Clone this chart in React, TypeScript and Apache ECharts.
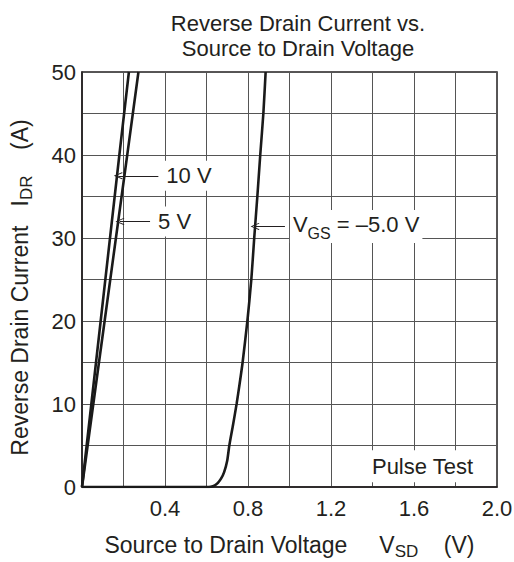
import React, { useEffect, useRef } from "react";
import * as echarts from "echarts";

// ---- data ----
const TITLE_LINES = ["Reverse Drain Current vs.", "Source to Drain Voltage"];

const vsdVgs10 = [0, 0.09, 0.18, 0.226];
const idrVgs10 = [0, 20, 40, 50];

const vsdVgs5 = [0, 0.109, 0.218, 0.272];
const idrVgs5 = [0, 20, 40, 50];

const vsdVgsM5 = [0, 0.6, 0.62, 0.64, 0.655, 0.67, 0.685, 0.7, 0.71, 0.728, 0.745, 0.76, 0.774, 0.797, 0.816, 0.83, 0.845, 0.859, 0.874, 0.885];
const idrVgsM5 = [0, 0, 0.03, 0.2, 0.5, 1.0, 1.8, 3.2, 5, 7.5, 10, 12.5, 15, 20, 25, 30, 35, 40, 45, 50];

// annotation arrows: [tip on curve], label end x
const arrowTips = [[0.175, 37.5], [0.183, 32], [0.834, 31.4]];
const arrowEndX = [0.368, 0.328, 0.978];
const arrowLabels = ["10 V", "5 V", "{a|V}{s|GS}{a| = –5.0 V}"];

const pulseTestPos = [1.641, 2.5];
const pulseTestText = "Pulse Test";

const X_MIN = 0, X_MAX = 2, X_STEP = 0.2;
const Y_MIN = 0, Y_MAX = 50, Y_STEP = 5;

const FONT = "'Liberation Sans', Arial, Helvetica, sans-serif";
const TXT = "#231f20";
const FS = 22;
const FS_NAME = 23;

const ARROW = "path://M5,0 L10,9 L9,10 L5,2.2 L1,10 L0,9 Z";

const richLabel = {
  a: { fontFamily: FONT, fontSize: FS, color: TXT, lineHeight: 25, verticalAlign: "top" as const },
  s: { fontFamily: FONT, fontSize: 16, color: TXT, lineHeight: 16, padding: [12, 0, 0, 0], verticalAlign: "top" as const },
};
const richName = {
  a: { fontFamily: FONT, fontSize: FS_NAME, color: TXT, lineHeight: 26, verticalAlign: "top" as const },
  s: { fontFamily: FONT, fontSize: 17, color: TXT, lineHeight: 17, padding: [10, 0, 0, 0], verticalAlign: "top" as const },
};

function pairs(xs: number[], ys: number[]) {
  return xs.map((x, i) => [x, ys[i]]);
}

function arrowLine(i: number) {
  return {
    silent: true,
    symbol: [ARROW, "none"],
    symbolSize: [7, 9],
    lineStyle: { color: TXT, width: 1, type: "solid" },
    emphasis: { disabled: true },
    label: {
      show: true,
      position: "end",
      distance: 5,
      formatter: arrowLabels[i],
      fontFamily: FONT,
      fontSize: FS,
      color: TXT,
      backgroundColor: "#ffffff",
      padding: [4, 3, 4, 3],
      rich: richLabel,
    },
    data: [[{ coord: arrowTips[i] }, { coord: [arrowEndX[i], arrowTips[i][1]] }]],
  };
}

const curveStyle = { color: "#1a1a1a", width: 2.6 };

export default function App() {
  const ref = useRef<HTMLDivElement>(null);
  useEffect(() => {
    if (!ref.current) return;
    const chart = echarts.init(ref.current, null, { renderer: "svg" });
    chart.setOption({
      animation: false,
      backgroundColor: "#ffffff",
      title: {
        text: TITLE_LINES.join("\n"),
        left: 293,
        top: 6,
        textAlign: "center",
        textStyle: { fontFamily: FONT, fontSize: 22, fontWeight: "normal", color: TXT, lineHeight: 25 },
      },
      grid: {
        left: 82, right: 17, top: 72, bottom: 75,
        containLabel: false,
        outerBoundsMode: "none",
        show: true, borderColor: TXT, borderWidth: 1.5, backgroundColor: "transparent",
      },
      xAxis: {
        type: "value",
        min: X_MIN,
        max: X_MAX,
        interval: X_STEP,
        axisLine: { show: true, lineStyle: { color: TXT, width: 1.5 } },
        axisTick: { show: false },
        splitLine: { show: true, lineStyle: { color: "#555555", width: 1 } },
        axisLabel: {
          fontFamily: FONT,
          fontSize: FS,
          color: TXT,
          margin: 10,
          hideOverlap: false,
          formatter: (v: number) => {
            const k = Math.round(v * 10);
            if (k === 0 || k % 4 !== 0) return "";
            return (k / 10).toFixed(1);
          },
        },
        name: "{a|Source to Drain Voltage     V}{s|SD}{a|    (V)}",
        nameLocation: "middle",
        nameGap: 46,
        nameTextStyle: { rich: richName },
      },
      yAxis: {
        type: "value",
        min: Y_MIN,
        max: Y_MAX,
        interval: Y_STEP,
        axisLine: { show: true, lineStyle: { color: TXT, width: 1.5 } },
        axisTick: { show: false },
        splitLine: { show: true, lineStyle: { color: "#555555", width: 1 } },
        axisLabel: {
          fontFamily: FONT,
          fontSize: FS,
          color: TXT,
          margin: 6,
          formatter: (v: number) => (Math.round(v) % 10 === 0 ? String(Math.round(v)) : ""),
        },
        name: "{a|Reverse Drain Current   I}{s|DR}{a|    (A)}",
        nameLocation: "middle",
        nameGap: 48,
        nameTextStyle: { rich: richName, padding: [0, 16, 0, 0] },
      },
      series: [
        {
          type: "line",
          data: pairs(vsdVgs10, idrVgs10),
          symbol: "none",
          lineStyle: curveStyle,
          silent: true,
          markLine: arrowLine(0),
        },
        {
          type: "line",
          data: pairs(vsdVgs5, idrVgs5),
          symbol: "none",
          lineStyle: curveStyle,
          silent: true,
          markLine: arrowLine(1),
        },
        {
          type: "line",
          data: pairs(vsdVgsM5, idrVgsM5),
          symbol: "none",
          smooth: 0.2,
          lineStyle: curveStyle,
          silent: true,
          markLine: arrowLine(2),
          markPoint: {
            silent: true,
            symbol: "rect",
            symbolSize: [1, 1],
            itemStyle: { color: "rgba(0,0,0,0)" },
            label: {
              show: true,
              position: "inside",
              formatter: pulseTestText,
              fontFamily: FONT,
              fontSize: FS,
              color: TXT,
              backgroundColor: "#ffffff",
              padding: [5, 4, 5, 4],
            },
            data: [{ coord: pulseTestPos }],
          },
        },
      ],
    });
    return () => chart.dispose();
  }, []);
  return <div ref={ref} style={{ position: "fixed", left: 0, top: 0, width: 514, height: 562 }} />;
}
